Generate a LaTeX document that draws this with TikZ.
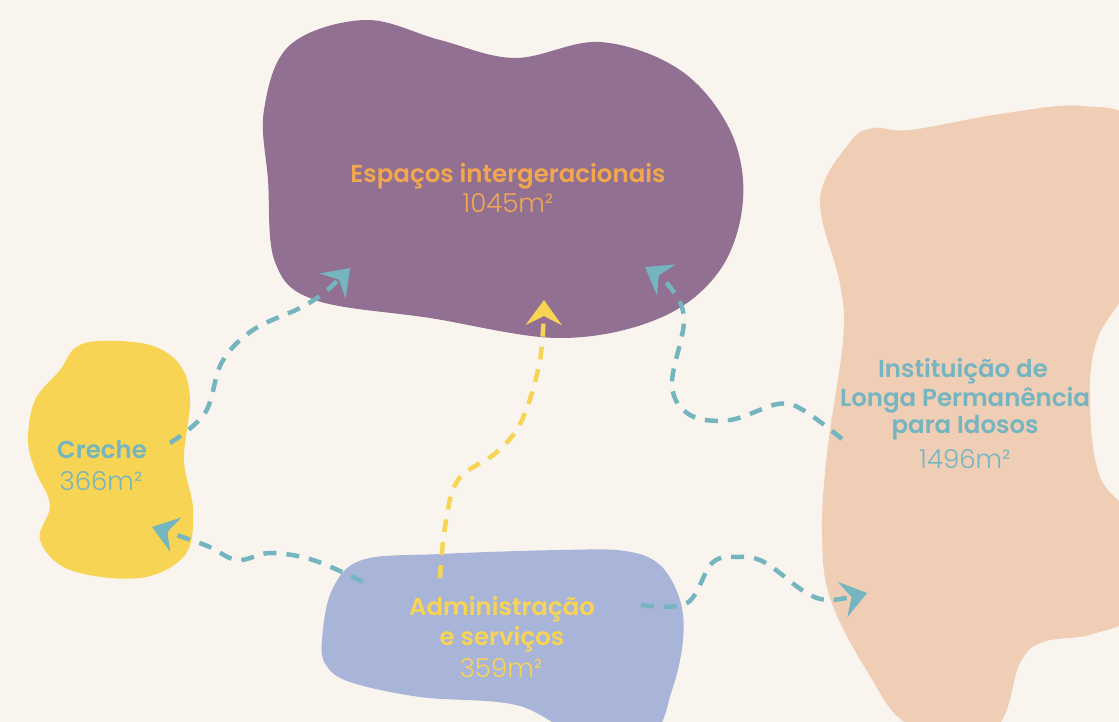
\documentclass[tikz,border=0pt]{standalone}
\usepackage{fontspec}
\usepackage{tikz}
\usetikzlibrary{arrows.meta}
\setmainfont{Poppins}
\newfontfamily\semifont{Poppins SemiBold}
\newfontfamily\lightfont{Poppins Light}
\definecolor{bgcream}{HTML}{F9F5EE}
\definecolor{espPurple}{HTML}{927091}
\definecolor{crecheYellow}{HTML}{F8D455}
\definecolor{ilpiPeach}{HTML}{F0CEB6}
\definecolor{admLilac}{HTML}{A8B5D8}
\definecolor{linkTeal}{HTML}{75B5C0}
\definecolor{textOrange}{HTML}{F2A74E}

\begin{document}
\begin{tikzpicture}[
  x=1pt, y=-1pt,
  link/.style={
    line width=4.5pt, dash pattern=on 13pt off 10pt,
    -{Stealth[length=25pt,width=36pt,inset=9pt]}
  },
  title/.style={font=\semifont\fontsize{24.5}{30}\selectfont, anchor=base, inner sep=0pt},
  area/.style={font=\lightfont\fontsize{26}{30}\selectfont, anchor=base, inner sep=0pt}
]
  \fill[bgcream] (0,0) rectangle (1119,722);
  \useasboundingbox (0,0) rectangle (1119,722);
  \begin{scope}
    \clip (0,0) rectangle (1119,722);
    \fill[espPurple] plot[smooth cycle, tension=0.6] coordinates {
      (264,110) (290,45) (365,20) (440,40) (515,58) (600,42) (680,70)
      (730,130) (743,200) (720,270) (660,318) (560,338) (430,318)
      (315,300) (275,262) (268,180)};
    \fill[crecheYellow] plot[smooth cycle, tension=0.6] coordinates {
      (100,341) (150,345) (180,365) (190,400) (184,460) (193,510)
      (185,555) (140,578) (70,570) (40,540) (50,505) (35,470)
      (28,440) (35,400) (60,370) (75,348)};
    \fill[admLilac] plot[smooth cycle, tension=0.6] coordinates {
      (322,640) (332,590) (362,560) (440,554) (560,550) (625,551)
      (660,565) (680,600) (683,640) (672,690) (650,735) (580,735)
      (516,705) (420,697) (350,682) (326,665)};
    \fill[ilpiPeach] plot[smooth cycle, tension=0.6] coordinates {
      (873,128) (850,142) (820,199) (840,284) (843,340) (827,453)
      (822,534) (830,598) (867,671) (910,725) (993,730) (1020,663)
      (1043,642) (1093,634) (1135,610) (1135,525) (1100,477) (1090,405)
      (1097,340) (1135,265) (1135,130) (1083,106) (1000,114) (910,130)};
  \end{scope}

  \node[title, text=textOrange] (espName) at (508,183) {Espaços intergeracionais};
  \node[area, text=textOrange] (espArea) at (508,213) {1045m²};
  \node[title, text=linkTeal] (crecheName) at (102,458) {Creche};
  \node[area, text=linkTeal] (crecheArea) at (101,490) {366m²};
  \node[title, text=linkTeal] (ilpiName1) at (963,377) {Instituição de};
  \node[title, text=linkTeal] (ilpiName2) at (965,406) {Longa Permanência};
  \node[title, text=linkTeal] (ilpiName3) at (965,433) {para Idosos};
  \node[area, text=linkTeal] (ilpiArea) at (965,468) {1496m²};
  \node[title, text=crecheYellow] (admName1) at (502,615) {Administração};
  \node[title, text=crecheYellow] (admName2) at (502,645) {e serviços};
  \node[area, text=crecheYellow] (admArea) at (501,677) {359m²};

  \coordinate (crecheUp) at (170,443);
  \coordinate (espLeft) at (350,268);
  \coordinate (admLeft) at (363,582);
  \coordinate (crecheIn) at (152,527);
  \coordinate (admUp) at (440,578);
  \coordinate (espMid) at (544,300);
  \coordinate (ilpiLeft) at (842,439);
  \coordinate (espRight) at (645,267);
  \coordinate (admRight) at (641,605);
  \coordinate (ilpiIn) at (867,593);

  \draw[link, linkTeal] plot[smooth, tension=0.6] coordinates {
    (crecheUp) (205,413) (222,362) (253,330) (300,308) (325,292) (espLeft)};
  \draw[link, linkTeal] plot[smooth, tension=0.6] coordinates {
    (admLeft) (313,560) (270,553) (237,560) (205,545) (crecheIn)};
  \draw[link, crecheYellow] plot[smooth, tension=0.6] coordinates {
    (admUp) (445,527) (458,480) (497,452) (522,420) (540,360) (espMid)};
  \draw[link, linkTeal] plot[smooth, tension=0.6] coordinates {
    (ilpiLeft) (803,410) (778,404) (730,420) (690,415) (672,385)
    (684,320) (670,287) (espRight)};
  \draw[link, linkTeal] plot[smooth, tension=0.6] coordinates {
    (admRight) (687,603) (712,563) (737,557) (764,562) (805,592)
    (830,600) (ilpiIn)};
\end{tikzpicture}
\end{document}
